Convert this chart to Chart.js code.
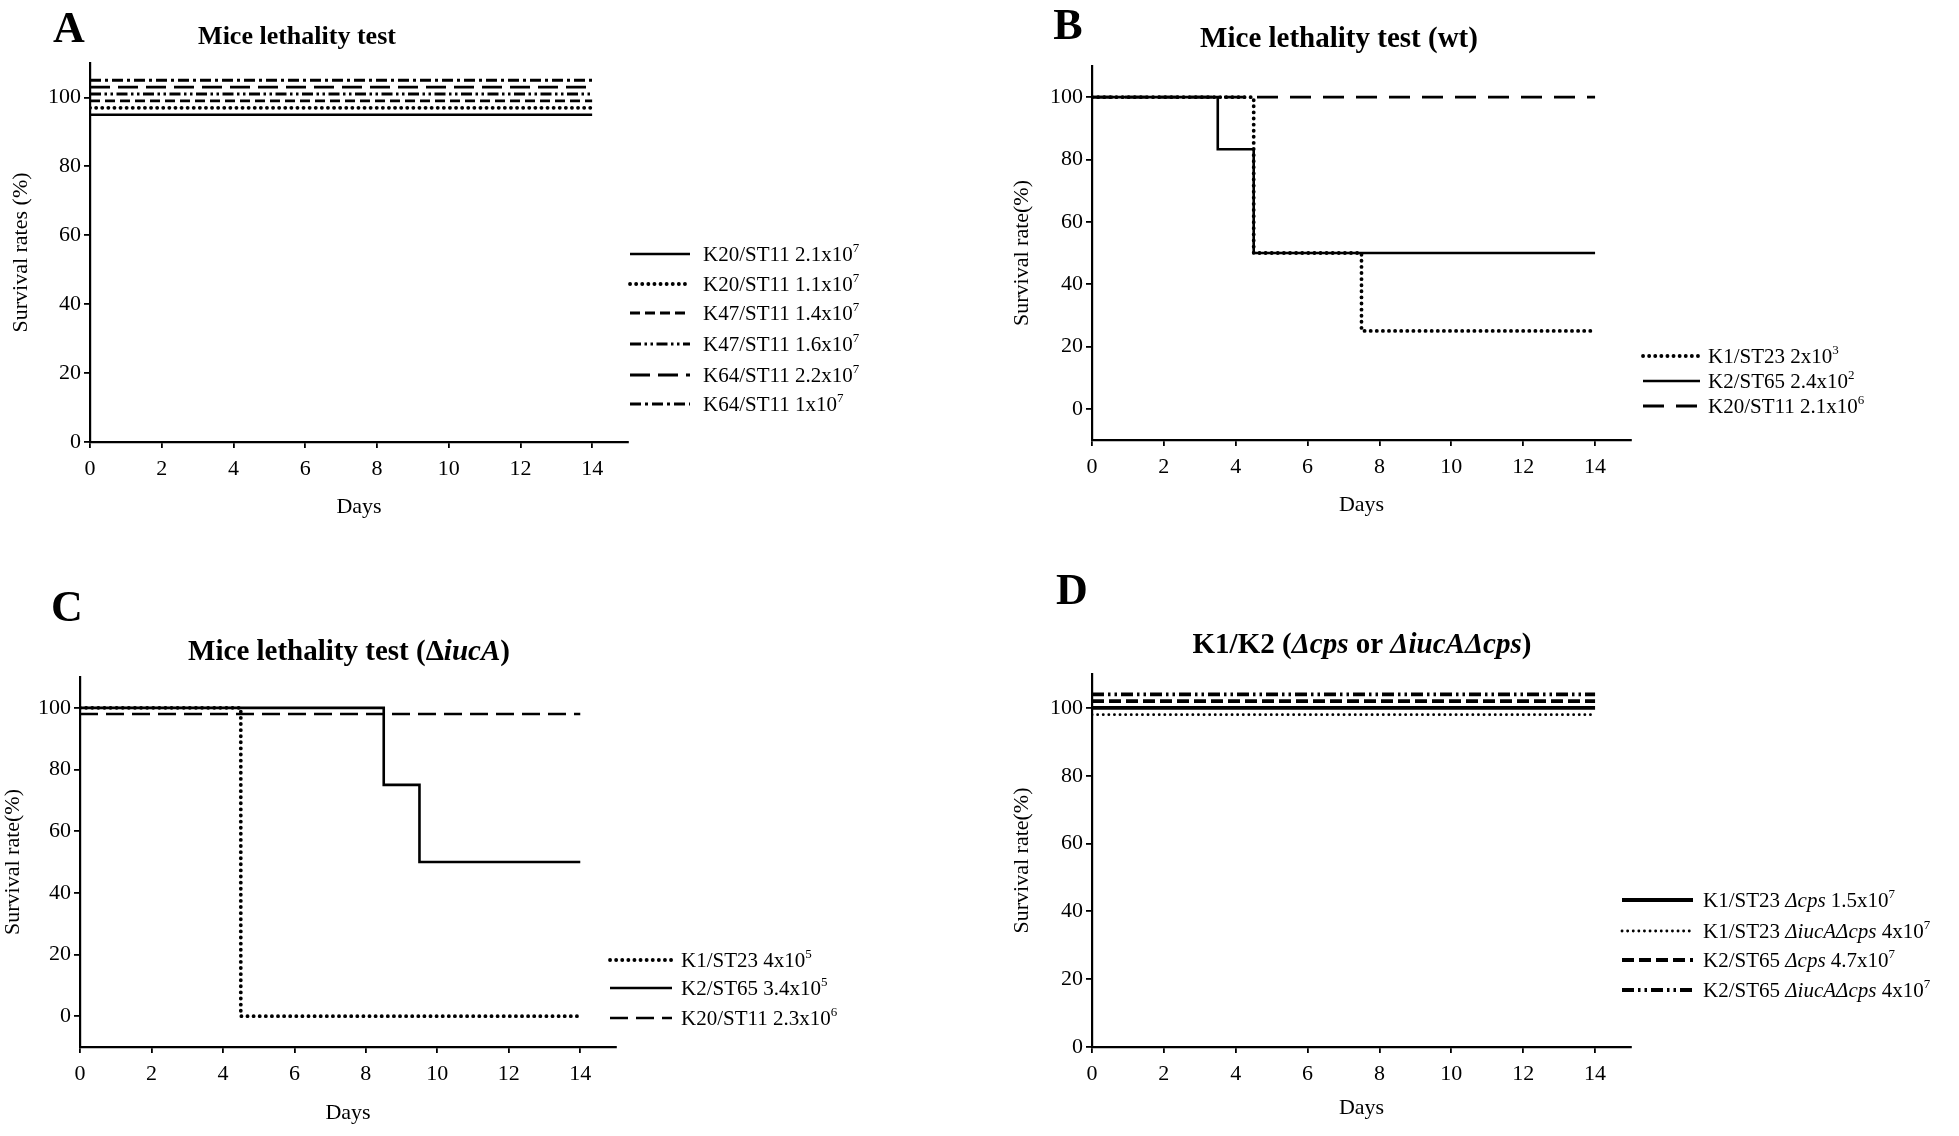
<!DOCTYPE html>
<html>
<head>
<meta charset="utf-8">
<title>Mice lethality test</title>
<script src="https://cdn.jsdelivr.net/npm/chart.js@4.4.1/dist/chart.umd.min.js"></script>
<style>
  html, body { margin: 0; padding: 0; background: #fff; }
  #page { position: relative; width: 1959px; height: 1136px; overflow: hidden; background: #fff; }
  #page canvas { position: absolute; left: 0; top: 0; }
</style>
</head>
<body>
<div id="page">
  <canvas id="chartA" width="1959" height="1136"></canvas>
  <canvas id="chartB" width="1959" height="1136"></canvas>
  <canvas id="chartC" width="1959" height="1136"></canvas>
  <canvas id="chartD" width="1959" height="1136"></canvas>
</div>
<script>
// ---- Data ----
// "_text_" = italic, "^n" = superscript
const xTicks = [0, 2, 4, 6, 8, 10, 12, 14];
const yTicks = [0, 20, 40, 60, 80, 100];

// A - Mice lethality test
const aLabels = ['K20/ST11 2.1x10^7', 'K20/ST11 1.1x10^7', 'K47/ST11 1.4x10^7', 'K47/ST11 1.6x10^7', 'K64/ST11 2.2x10^7', 'K64/ST11 1x10^7'];
const aDays = [[0, 14], [0, 14], [0, 14], [0, 14], [0, 14], [0, 14]];
const aSurvival = [[95, 95], [97, 97], [99, 99], [101, 101], [103, 103], [105, 105]];

// B - Mice lethality test (wt)
const bLabels = ['K1/ST23 2x10^3', 'K2/ST65 2.4x10^2', 'K20/ST11 2.1x10^6'];
const bDays = [[0, 4.5, 7.5, 14], [0, 3.5, 4.5, 14], [0, 14]];
const bSurvival = [[100, 50, 25, 25], [100, 83.3, 50, 50], [100, 100]];

// C - Mice lethality test (ΔiucA)
const cLabels = ['K1/ST23 4x10^5', 'K2/ST65 3.4x10^5', 'K20/ST11 2.3x10^6'];
const cDays = [[0, 4.5, 14], [0, 8.5, 9.5, 14], [0, 14]];
const cSurvival = [[100, 0, 0], [100, 75, 50, 50], [98, 98]];

// D - K1/K2 (Δcps or ΔiucAΔcps)
const dLabels = ['K1/ST23 _Δcps_ 1.5x10^7', 'K1/ST23 _ΔiucAΔcps_ 4x10^7', 'K2/ST65 _Δcps_ 4.7x10^7', 'K2/ST65 _ΔiucAΔcps_ 4x10^7'];
const dDays = [[0, 14], [0, 14], [0, 14], [0, 14]];
const dSurvival = [[100, 100], [98, 98], [102, 102], [104, 104]];

// ---- Styles ----
const FONT = '"Liberation Serif", "Times New Roman", serif';

const lineStyles = {
    solid:      { dash: [], width: 2.6, cap: 'butt' },
    solidThick: { dash: [], width: 3.8, cap: 'butt' },
    dotted:     { dash: [0.1, 6], width: 3.8, cap: 'round' },
    dottedThin: { dash: [0.1, 5.5], width: 2.8, cap: 'round' },
    dashed:     { dash: [10, 5], width: 2.8, cap: 'butt' },
    dashedThick:{ dash: [12, 5], width: 3.8, cap: 'butt' },
    dashDot:    { dash: [11, 4, 3, 4], width: 2.8, cap: 'butt' },
    dashDotDot: { dash: [11, 3.5, 2.5, 3.5, 2.5, 3.5], width: 2.8, cap: 'butt' },
    dashDotDotThick: { dash: [12, 4, 2.5, 4, 2.5, 4], width: 3.8, cap: 'butt' },
    longDash:   { dash: [20, 8], width: 2.8, cap: 'butt' },
    longDashB:  { dash: [21, 12], width: 2.8, cap: 'butt' },
    longDashC:  { dash: [18, 8], width: 2.6, cap: 'butt' }
};

const aStyles = ['solid', 'dotted', 'dashed', 'dashDotDot', 'longDash', 'dashDot'];
const bStyles = ['dotted', 'solid', 'longDashB'];
const cStyles = ['dotted', 'solid', 'longDashC'];
const dStyles = ['solidThick', 'dottedThin', 'dashedThick', 'dashDotDotThick'];

// ---- Panel layout (page pixels) ----
const layoutA = {
    letter: 'A', letterX: 69, letterY: 42,
    title: 'Mice lethality test', titleX: 297, titleY: 44, titleSize: 26,
    left: 90, right: 628, top: 63, bottom: 442, yMin: 0,
    yTitle: 'Survival rates (%)', yTitleX: 21, xTitleY: 507,
    legLine: [630, 690], legText: 703, legRows: [254, 284, 313, 344, 375, 404]
};
const layoutB = {
    letter: 'B', letterX: 1068, letterY: 39,
    title: 'Mice lethality test (wt)', titleX: 1339, titleY: 47, titleSize: 29,
    left: 1092, right: 1631, top: 66, bottom: 440, yMin: -10,
    yTitle: 'Survival rate(%)', yTitleX: 1022, xTitleY: 505,
    legLine: [1643, 1700], legText: 1708, legRows: [356, 381, 406]
};
const layoutC = {
    letter: 'C', letterX: 67, letterY: 621,
    title: 'Mice lethality test (Δ_iucA_)', titleX: 349, titleY: 660, titleSize: 29,
    left: 80, right: 616, top: 677, bottom: 1047, yMin: -10,
    yTitle: 'Survival rate(%)', yTitleX: 12, xTitleY: 1113,
    legLine: [610, 672], legText: 681, legRows: [960, 988, 1018]
};
const layoutD = {
    letter: 'D', letterX: 1072, letterY: 604,
    title: 'K1/K2 (_Δcps_ or _ΔiucAΔcps_)', titleX: 1362, titleY: 653, titleSize: 29,
    left: 1092, right: 1631, top: 674, bottom: 1047, yMin: 0,
    yTitle: 'Survival rate(%)', yTitleX: 1022, xTitleY: 1108,
    legLine: [1622, 1693], legText: 1703, legRows: [900, 931, 960, 990]
};

// ---- Helpers ----

/**
 * Draw text with _italic_ and ^superscript parts
 */
function drawRich(ctx, text, x, y, size, bold, align) {
    const segs = text.split(/(_[^_]+_|\^\d+)/).filter(p => p).map(p => {
        if (p[0] === '_') return { t: p.slice(1, -1), italic: true };
        if (p[0] === '^') return { t: p.slice(1), sup: true };
        return { t: p };
    });
    const fontOf = s => (s.italic ? 'italic ' : '') + (bold ? 'bold ' : '') +
        (s.sup ? Math.round(size * 0.62) : size) + 'px ' + FONT;
    let total = 0;
    segs.forEach(s => {
        ctx.font = fontOf(s);
        s.w = ctx.measureText(s.t).width;
        total += s.w;
    });
    let cx = align === 'center' ? x - total / 2 : x;
    ctx.textAlign = 'left';
    ctx.textBaseline = 'alphabetic';
    ctx.fillStyle = '#000';
    segs.forEach(s => {
        ctx.font = fontOf(s);
        ctx.fillText(s.t, cx, s.sup ? y - size * 0.45 : y);
        cx += s.w;
    });
}

// Panel letter, title and legend
const panelDecor = {
    id: 'panelDecor',
    afterDraw(chart, args, opts) {
        const ctx = chart.ctx;
        const L = opts.layout;
        ctx.save();
        drawRich(ctx, L.letter, L.letterX, L.letterY, 44, true, 'center');
        drawRich(ctx, L.title, L.titleX, L.titleY, L.titleSize, true, 'center');

        chart.data.datasets.forEach((ds, i) => {
            const y = L.legRows[i];
            ctx.beginPath();
            ctx.strokeStyle = '#000';
            ctx.lineWidth = ds.borderWidth;
            ctx.lineCap = ds.borderCapStyle;
            ctx.setLineDash(ds.borderDash);
            ctx.moveTo(L.legLine[0], y);
            ctx.lineTo(L.legLine[1], y);
            ctx.stroke();
            ctx.setLineDash([]);
            drawRich(ctx, ds.label, L.legText, y + 7, 21, false, 'left');
        });
        ctx.restore();
    }
};

function makeDatasets(labels, days, survival, styleNames) {
    return labels.map((label, i) => {
        const st = lineStyles[styleNames[i]];
        return {
            label: label,
            data: days[i].map((d, j) => ({ x: d, y: survival[i][j] })),
            borderColor: '#000',
            borderWidth: st.width,
            borderDash: st.dash,
            borderCapStyle: st.cap,
            stepped: 'before',
            pointRadius: 0,
            fill: false
        };
    });
}

/**
 * Build one survival panel
 */
function initPanel(canvasId, L, labels, days, survival, styleNames) {
    const canvas = document.getElementById(canvasId);
    const titleHalf = 22 * 1.2 / 2;
    const padLeft = Math.max(0, L.yTitleX - titleHalf);
    const xHeight = L.xTitleY + titleHalf - L.bottom;
    const axisGrid = {
        display: true,
        drawOnChartArea: false,
        drawTicks: true,
        tickLength: 6,
        color: '#000',
        lineWidth: 1.8
    };

    return new Chart(canvas, {
        type: 'line',
        data: { datasets: makeDatasets(labels, days, survival, styleNames) },
        options: {
            responsive: false,
            animation: false,
            events: [],
            layout: {
                padding: {
                    left: padLeft,
                    right: 1959 - L.right,
                    top: L.top,
                    bottom: 1136 - L.xTitleY - titleHalf
                }
            },
            plugins: {
                legend: { display: false },
                tooltip: { enabled: false },
                panelDecor: { layout: L }
            },
            scales: {
                x: {
                    type: 'linear',
                    min: 0,
                    max: 15,
                    afterBuildTicks: s => { s.ticks = xTicks.map(v => ({ value: v })); },
                    afterFit: s => { s.height = xHeight; },
                    grid: axisGrid,
                    border: { display: true, color: '#000', width: 2.2 },
                    ticks: {
                        color: '#000',
                        padding: 8,
                        maxRotation: 0,
                        autoSkip: false,
                        font: { family: FONT, size: 22 }
                    },
                    title: {
                        display: true,
                        text: 'Days',
                        color: '#000',
                        padding: 0,
                        font: { family: FONT, size: 22 }
                    }
                },
                y: {
                    type: 'linear',
                    min: L.yMin,
                    max: 110,
                    afterBuildTicks: s => { s.ticks = yTicks.map(v => ({ value: v })); },
                    afterFit: s => { s.width = L.left - padLeft; },
                    grid: axisGrid,
                    border: { display: true, color: '#000', width: 2.2 },
                    ticks: {
                        color: '#000',
                        padding: 3,
                        autoSkip: false,
                        font: { family: FONT, size: 22 }
                    },
                    title: {
                        display: true,
                        text: L.yTitle,
                        color: '#000',
                        padding: 0,
                        font: { family: FONT, size: 22 }
                    }
                }
            }
        },
        plugins: [panelDecor]
    });
}

document.addEventListener('DOMContentLoaded', function() {
    initPanel('chartA', layoutA, aLabels, aDays, aSurvival, aStyles);
    initPanel('chartB', layoutB, bLabels, bDays, bSurvival, bStyles);
    initPanel('chartC', layoutC, cLabels, cDays, cSurvival, cStyles);
    initPanel('chartD', layoutD, dLabels, dDays, dSurvival, dStyles);
});
</script>
</body>
</html>
